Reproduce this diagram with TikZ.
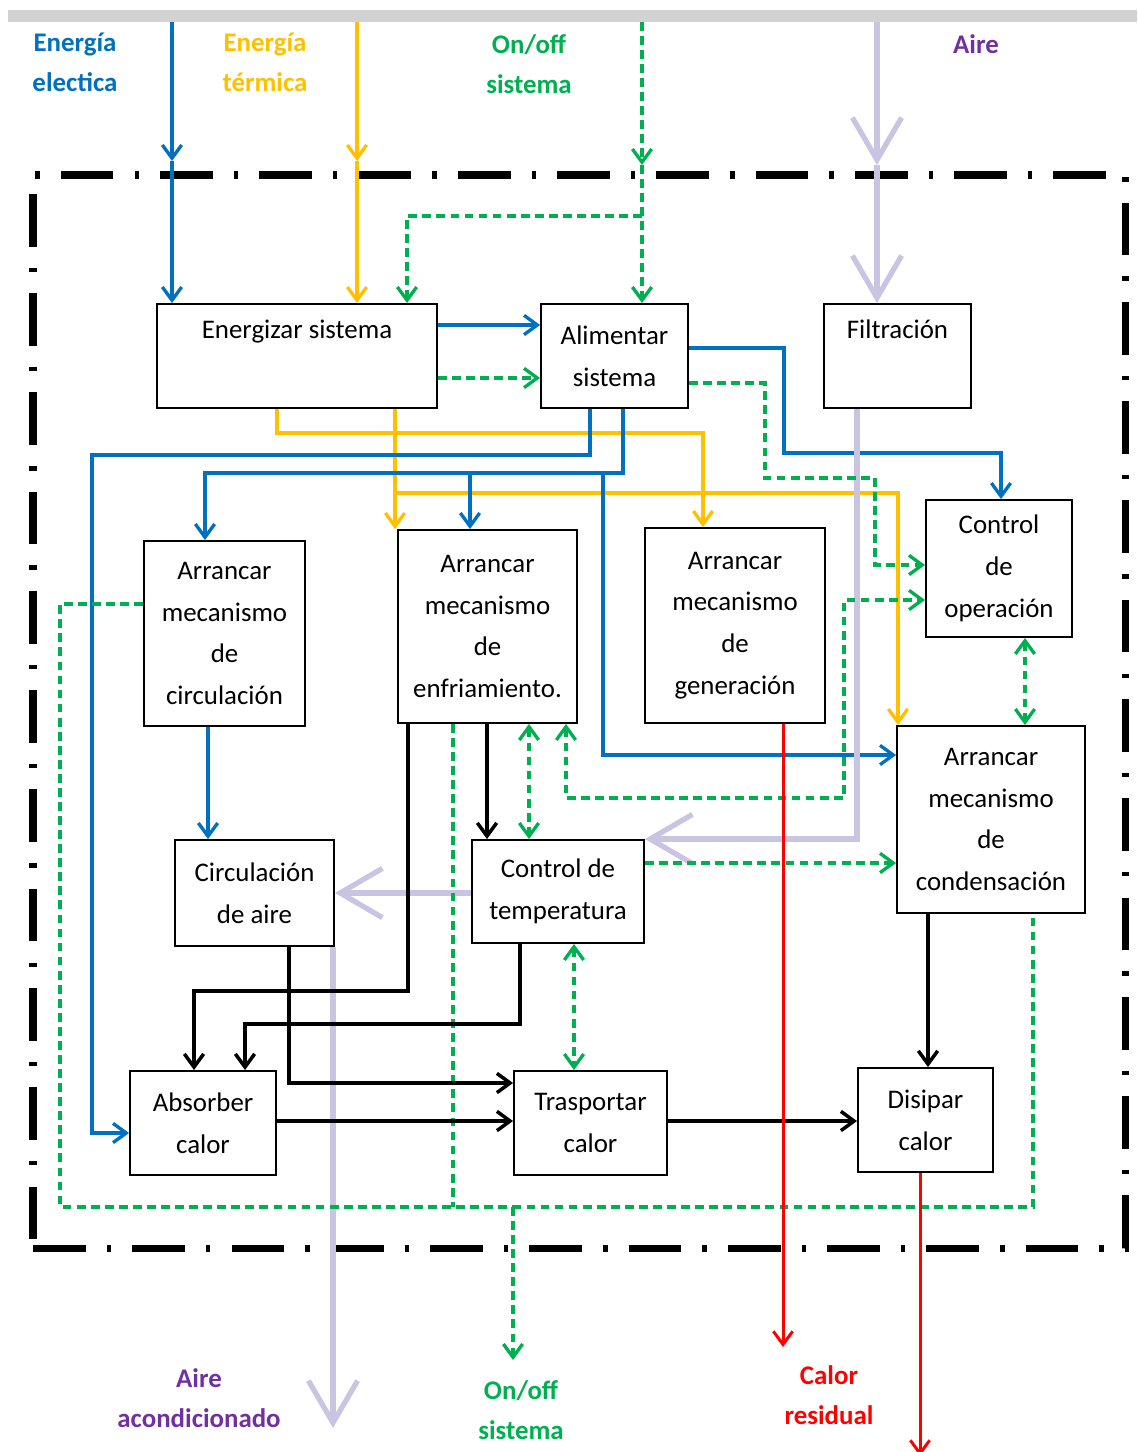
\documentclass[tikz,border=0pt]{standalone}
\usepackage{fontspec}
\setmainfont{Carlito}
\usetikzlibrary{arrows.meta}
\usetikzlibrary{fit}
\usetikzlibrary{calc}

\definecolor{eblue}{RGB}{0,112,192}
\definecolor{eyellow}{RGB}{255,192,0}
\definecolor{egreen}{RGB}{0,176,80}
\definecolor{ered}{RGB}{255,0,0}
\definecolor{epurple}{RGB}{112,48,160}
\definecolor{eair}{RGB}{200,196,226}

\tikzset{
  box/.style={draw, line width=1.1pt, inner sep=0pt},
  boxtxt/.style={align=center, font=\fontsize{15.3}{23.8}\selectfont},
  lbl/.style={align=center, font=\bfseries\fontsize{15.3}{22.7}\selectfont},
  bound/.style={draw, line width=4pt, inner sep=0pt, dash pattern=on 30pt off 12pt on 2.5pt off 12pt},
  blu/.style={draw=eblue, line width=1.9pt},
  yel/.style={draw=eyellow, line width=1.9pt},
  grn/.style={draw=egreen, line width=1.9pt, dash pattern=on 5pt off 3pt},
  blk/.style={draw=black, line width=2pt},
  rd/.style={draw=ered, line width=1.7pt},
  air/.style={draw=eair, line width=3pt, >={Straight Barb[length=24pt,width=28pt]}}
}

\begin{document}
\begin{tikzpicture}[x=0.02cm, y=-0.02cm, >={Straight Barb[length=7.5pt,width=11pt]}]
  % page size
  \useasboundingbox (0,0) rectangle (1137,1452);
  \fill[gray!35] (8,10) rectangle (1137,22);

  % system boundary
  \node[bound, fit={(33,175) (1125,1248)}] (bnd) {};

  % functions
  \node[box, fit={(157,304) (437,408)}, label={[boxtxt]center:{Energizar sistema\\ \strut}}] (energ) {};
  \node[box, fit={(541,304) (688,408)}, label={[boxtxt]center:{Alimentar\\sistema}}] (alim) {};
  \node[box, fit={(824,304) (971,408)}, label={[boxtxt]center:{Filtración\\ \strut}}] (filt) {};
  \node[box, fit={(144,541) (305,726)}, label={[boxtxt]center:{Arrancar\\mecanismo\\de\\circulación}}] (arrcirc) {};
  \node[box, fit={(398,530) (577,723)}, label={[boxtxt]center:{Arrancar\\mecanismo\\de\\enfriamiento.}}] (arrenf) {};
  \node[box, fit={(645,528) (825,723)}, label={[boxtxt]center:{Arrancar\\mecanismo\\de\\generación}}] (arrgen) {};
  \node[box, fit={(926,500) (1072,637)}, label={[boxtxt]center:{Control\\de\\operación}}] (ctrlop) {};
  \node[box, fit={(897,726) (1085,913)}, label={[boxtxt]center:{Arrancar\\mecanismo\\de\\condensación}}] (arrcond) {};
  \node[box, fit={(175,840) (334,946)}, label={[boxtxt]center:{Circulación\\de aire}}] (circ) {};
  \node[box, fit={(472,840) (644,943)}, label={[boxtxt]center:{Control de\\temperatura}}] (ctrltemp) {};
  \node[box, fit={(130,1071) (276,1175)}, label={[boxtxt]center:{Absorber\\calor}}] (absorb) {};
  \node[box, fit={(514,1071) (667,1175)}, label={[boxtxt]center:{Trasportar\\calor}}] (trasp) {};
  \node[box, fit={(858,1068) (993,1172)}, label={[boxtxt]center:{Disipar\\calor}}] (disip) {};

  % flow names
  \node[lbl, text=eblue] (lblElec) at (75,62) {Energía\\electica};
  \node[lbl, text=eyellow] (lblTerm) at (265,62) {Energía\\térmica};
  \node[lbl, text=egreen] (lblOnIn) at (529,64) {On/off\\sistema};
  \node[lbl, text=epurple] (lblAire) at (976,44) {Aire};
  \node[lbl, text=epurple] (lblAireAc) at (199,1398) {Aire\\acondicionado};
  \node[lbl, text=egreen] (lblOnOut) at (521,1410) {On/off\\sistema};
  \node[lbl, text=ered] (lblCalor) at (829,1395) {Calor\\residual};

  % free ends
  \coordinate (inE) at (172,22);
  \coordinate (inT) at (357,22);
  \coordinate (inO) at (642,22);
  \coordinate (inA) at (877,22);
  \coordinate (tE) at (172,161);
  \coordinate (tT) at (357,161);
  \coordinate (tO) at (642,165);
  \coordinate (tA) at (877,165);
  \coordinate (jO) at (642,216);
  \coordinate (outA) at (333,1428);
  \coordinate (outO) at (513,1360);
  \coordinate (outR) at (783,1347);
  \coordinate (outR2) at (920,1456);

  % inputs
  \draw[blu,->] (inE) -- (tE);
  \draw[blu,->] (tE) -- (energ.north -| inE);
  \draw[yel,->] (inT) -- (tT);
  \draw[yel,->] (tT) -- (energ.north -| inT);
  \draw[grn,->] (inO) -- (tO);
  \draw[grn,->] (tO) -- (alim.north -| inO);
  \draw[grn,->] (jO) -| (energ.north -| 407,0);
  \draw[air,->] (inA) -- (tA);
  \draw[air,->] (tA) -- (filt.north -| inA);

  % energy
  \draw[blu,->] (energ.east |- 0,325) -- (alim.west |- 0,325);
  \draw[grn,->] (energ.east |- 0,378) -- (alim.west |- 0,378);
  \draw[yel,->] (energ.south -| 277,0) |- (703,433) -- (arrgen.north -| 703,0);
  \draw[yel,->] (energ.south -| 395,0) -- (arrenf.north -| 395,0);
  \draw[yel,->] (395,493) -| (arrcond.north -| 898,0);
  \draw[blu,->] (alim.south -| 590,0) |- (92,455) |- (absorb.west |- 0,1133);
  \draw[blu,->] (alim.south -| 623,0) |- (205,473) -- (arrcirc.north -| 205,0);
  \draw[blu,->] (470,473) -- (arrenf.north -| 470,0);
  \draw[blu,->] (603,473) |- (arrcond.west |- 0,755);
  \draw[blu,->] (alim.east |- 0,348) -| (784,453) -| (ctrlop.north -| 1001,0);
  \draw[blu,->] (arrcirc.south -| 208,0) -- (circ.north -| 208,0);

  % air
  \draw[air,->] (filt.south -| 857,0) |- (ctrltemp.north east);
  \draw[air,->] (ctrltemp.west |- 0,893) -- (circ.east |- 0,893);
  \draw[air,->] (circ.south -| 333,0) -- (outA);

  % signals
  \draw[grn,->] (alim.east |- 0,383) -| (765,478) -| (875,565) -- (ctrlop.west |- 0,565);
  \draw[grn,<->] (arrenf.south -| 566,0) |- (844,798) |- (ctrlop.west |- 0,600);
  \draw[grn,<->] (ctrlop.south -| 1025,0) -- (arrcond.north -| 1025,0);
  \draw[grn,<->] (arrenf.south -| 529,0) -- (ctrltemp.north -| 529,0);
  \draw[grn,->] (ctrltemp.east |- 0,863) -- (arrcond.west |- 0,863);
  \draw[grn,<->] (ctrltemp.south -| 574,0) -- (trasp.north -| 574,0);
  \draw[grn] (arrcirc.west |- 0,604) -| (60,1207) -| (arrcond.south -| 1033,0);
  \draw[grn] (arrenf.south -| 453,0) -- (453,1207);
  \draw[grn,->] (513,1207) -- (outO);

  % heat
  \draw[blk,->] (arrenf.south -| 408,0) |- (194,991) -- (absorb.north -| 194,0);
  \draw[blk,->] (arrenf.south -| 487,0) -- (ctrltemp.north -| 487,0);
  \draw[blk,->] (ctrltemp.south -| 520,0) |- (245,1024) -- (absorb.north -| 245,0);
  \draw[blk,->] (circ.south -| 289,0) |- (trasp.west |- 0,1083);
  \draw[blk,->] (absorb.east |- 0,1121) -- (trasp.west |- 0,1121);
  \draw[blk,->] (trasp.east |- 0,1121) -- (disip.west |- 0,1121);
  \draw[blk,->] (arrcond.south -| 928,0) -- (disip.north -| 928,0);
  \draw[rd,->] (arrgen.south -| 783,0) -- (outR);
  \draw[rd,->] (disip.south -| 920,0) -- (outR2);
\end{tikzpicture}
\end{document}
